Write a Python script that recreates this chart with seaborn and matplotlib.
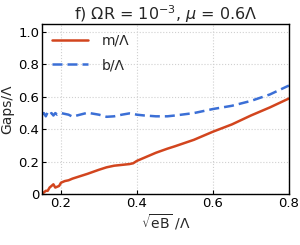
import matplotlib
matplotlib.use("Agg")
import matplotlib.pyplot as plt
import seaborn as sns
import pandas as pd

x_vals = [0.15, 0.155, 0.16, 0.165, 0.17, 0.175, 0.18, 0.185, 0.19, 0.195, 0.2,
          0.21, 0.22, 0.23, 0.25, 0.27, 0.3, 0.32, 0.34, 0.36, 0.38, 0.39, 0.4,
          0.42, 0.45, 0.48, 0.5, 0.55, 0.6, 0.65, 0.7, 0.75, 0.8]
m_vals = [0.0, 0.01, 0.02, 0.02, 0.04, 0.05, 0.06, 0.04, 0.045, 0.05, 0.07,
          0.08, 0.085, 0.095, 0.11, 0.125, 0.15, 0.165, 0.175, 0.18, 0.185, 0.19, 0.205,
          0.225, 0.255, 0.28, 0.295, 0.335, 0.385, 0.43, 0.485, 0.535, 0.59]
b_vals = [0.49, 0.50, 0.48, 0.505, 0.49, 0.50, 0.485, 0.50, 0.49, 0.495, 0.50,
          0.495, 0.49, 0.478, 0.49, 0.502, 0.49, 0.477, 0.48, 0.49, 0.498, 0.495, 0.49,
          0.485, 0.48, 0.48, 0.485, 0.50, 0.525, 0.545, 0.575, 0.615, 0.67]
x_ticks = [0.2, 0.4, 0.6, 0.8]
x_tick_labels = ["0.2", "0.4", "0.6", "0.8"]
y_ticks = [0, 0.2, 0.4, 0.6, 0.8, 1.0]
y_tick_labels = ["0", "0.2", "0.4", "0.6", "0.8", "1.0"]

sns.set_style("white")
plt.rcParams['font.family'] = ['DejaVu Sans']

fig = plt.figure(figsize=(3.0, 2.45), dpi=100)
ax = fig.add_axes([0.14, 0.208, 0.823, 0.694])

df = pd.DataFrame({"x": x_vals, "m": m_vals, "b": b_vals})
sns.lineplot(data=df, x="x", y="m", ax=ax, color="#D2451E", lw=1.8, label="m/Λ")
sns.lineplot(data=df, x="x", y="b", ax=ax, color="#3B6FD6", lw=1.8,
             label="b/Λ", dashes=False)
ax.lines[1].set_dashes([4, 2])

ax.set_xlim(0.15, 0.8)
ax.set_ylim(0, 1.05)
ax.set_xticks(x_ticks)
ax.set_xticklabels(x_tick_labels)
ax.set_yticks(y_ticks)
ax.set_yticklabels(y_tick_labels)
ax.grid(True, color="#d0d0d0", ls=":", lw=0.8)
ax.tick_params(direction="in", length=3, width=0.8, labelsize=9.5, pad=2,
               left=True, bottom=True, colors="black")
for s in ax.spines.values():
    s.set_color("black")
    s.set_linewidth(1.0)

ax.set_xlabel(r"$\sqrt{\mathrm{eB}}$ /Λ", fontsize=10, labelpad=2)
ax.set_ylabel("Gaps/Λ", fontsize=10, labelpad=3)
ax.set_title(r"f) ΩR = 10$^{-3}$, $\mu$ = 0.6Λ", fontsize=11.5, pad=3)

leg = ax.legend(loc="upper left", frameon=False, fontsize=10, handlelength=2.6,
                borderaxespad=0.3, labelspacing=0.75, handletextpad=1.0)

fig.savefig("out.png", dpi=100)
